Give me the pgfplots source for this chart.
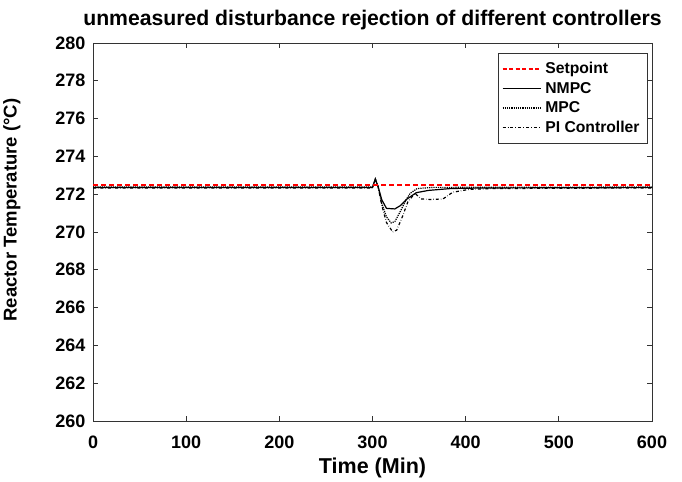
\documentclass[border=0pt]{standalone}
\usepackage{pgfplots}
\pgfplotsset{compat=1.18}
\usepackage{fontspec}
\setmainfont{Liberation Sans}
\definecolor{spred}{RGB}{255,0,0}
\begin{document}
\begin{tikzpicture}
\begin{axis}[
  name=ax,
  width=559pt, height=378pt, scale only axis,
  xmin=0, xmax=600, ymin=260, ymax=280,
  xtick={0,100,...,600}, ytick={260,262,...,280},
  title={unmeasured disturbance rejection of different controllers},
  title style={font=\bfseries\fontsize{21.2}{24}\selectfont, at={(axis description cs:0.5,1)}, anchor=base, yshift=11pt},
  xlabel={Time (Min)}, ylabel={Reactor Temperature (°C)},
  xlabel style={font=\bfseries\fontsize{21.5}{24}\selectfont, at={(axis description cs:0.5,0)}, anchor=base, yshift=-53pt},
  ylabel style={font=\bfseries\fontsize{18.5}{22}\selectfont, at={(axis description cs:-0.145,0.558)}, anchor=center},
  tick label style={font=\bfseries\fontsize{18}{21}\selectfont},
  xticklabel style={anchor=base, yshift=-28pt},
  yticklabel style={xshift=-4pt},
  /pgf/number format/assume math mode=true,
  /pgf/number format/1000 sep={},
  tick align=inside, tick pos=both, major tick length=5pt,
  axis line style={line width=0.9pt, black!80},
  xtick style={black!80, line width=0.8pt}, ytick style={black!80, line width=0.8pt},
  legend style={at={(axis description cs:1,1)}, xshift=-4pt, yshift=-10pt, anchor=north east,
    font=\bfseries\fontsize{15.7}{18}\selectfont, draw=black!80, line width=0.9pt, row sep=3pt,
    inner xsep=3pt, inner ysep=7pt},
  legend image code/.code={\draw[#1] (0pt,0pt) -- (38pt,0pt); \path (40pt,0pt);},
  legend cell align=left,
]
\addlegendimage{spred, dash pattern=on 4pt off 2.5pt, line width=1.6pt}
\addlegendentry{Setpoint}
\addplot[black, line width=1.2pt] coordinates {
(0,272.35) (300,272.35) (303,272.8) (306,272.4) (310,271.7) (315,271.25) (324,271.22) (330,271.4) (336.6,271.73) (347,272.08) (360,272.2) (384,272.3) (420,272.33) (600,272.35)};
\addlegendentry{NMPC}
\addplot[black, densely dotted, line width=1.2pt] coordinates {
(0,272.38) (300,272.38) (303,272.8) (306,272.4) (310,271.5) (315,270.8) (320,270.48) (324,270.55) (330,271.1) (336,271.7) (340.5,272.05) (348,272.3) (365,272.36) (600,272.38)};
\addlegendentry{MPC}
\addplot[black, dash dot, line width=1.2pt] coordinates {
(0,272.32) (300,272.32) (303,272.8) (306,272.4) (310,271.4) (315,270.5) (321.7,270.0) (326,270.1) (332,270.8) (338,271.6) (345.6,272.05) (352,271.75) (362,271.72) (375.7,271.75) (386,272.1) (403,272.25) (430,272.3) (600,272.33)};
\addlegendentry{PI Controller\hspace*{3pt}}
\addplot[spred, dash pattern=on 5pt off 3pt, line width=2pt, forget plot] coordinates {(0,272.46) (600,272.46)};
\end{axis}
\path (ax.south west) ++(-93pt,-57pt) rectangle ++(682pt,478pt);
\end{tikzpicture}
\end{document}
